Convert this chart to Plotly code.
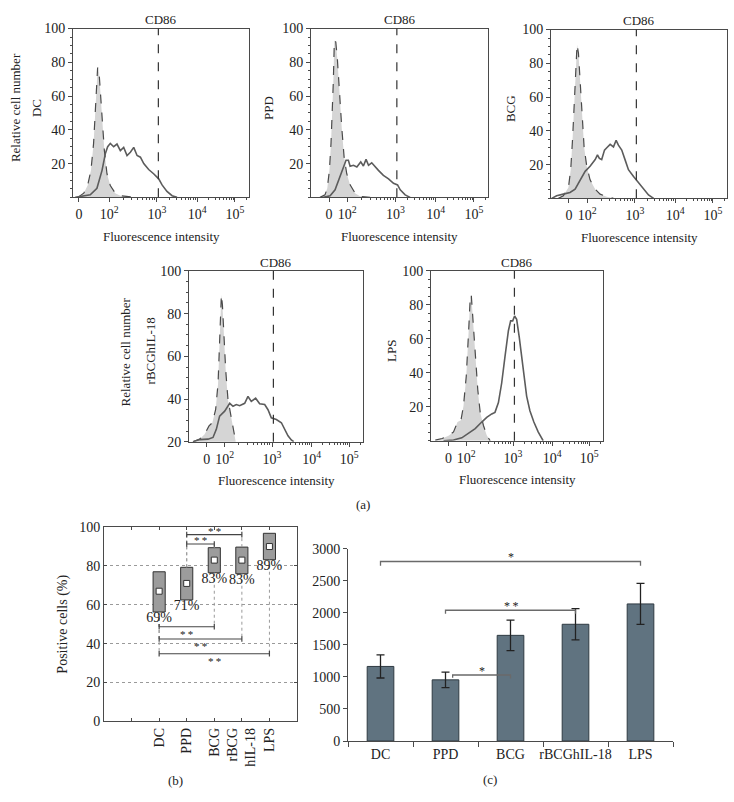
import math
import plotly.graph_objects as go

W, H = 734, 802
FONT = "Liberation Serif"
INK = "#222222"
AXIS = "#4a4a4a"

# ---------------- (a) CD86 histograms ----------------
# x values are display channels (0-1000) of the biexponential fluorescence axis
decade_ch = [205, 477, 705, 920]
decade_txt = ["10<sup>2</sup>", "10<sup>3</sup>", "10<sup>4</sup>", "10<sup>5</sup>"]
gate_ch = 485

dc_ctrl_x = [27, 61, 83, 102, 117, 127, 134, 140, 148, 155, 165, 178, 193, 212, 240, 269, 316, 345]
dc_ctrl_y = [0, 2.5, 7, 16, 32, 49, 68, 77, 74, 63, 47, 28, 14, 7, 2.5, 1, 0.5, 0]
dc_x = [13, 61, 98, 136, 165, 184, 197, 212, 231, 250, 269, 288, 307, 326, 345, 364, 383, 402,
        430, 458, 487, 506, 534, 563, 591]
dc_y = [0, 0.6, 1.5, 5.4, 16, 26, 30, 32, 30, 31.6, 27.7, 29.6, 24.8, 26.7, 29.6, 24.8, 23.8, 20,
        16.5, 14, 11, 7.4, 3.5, 1, 0]

ppd_ctrl_x = [51, 79, 92, 104, 113, 121, 126, 132, 140, 149, 160, 174, 187, 202, 221, 249, 277, 334]
ppd_ctrl_y = [0, 1.5, 5.4, 16, 32, 49, 68, 93, 92, 82, 63, 41, 24, 14, 7.4, 2.5, 0.6, 0]
ppd_x = [70, 108, 136, 155, 174, 187, 198, 211, 221, 240, 259, 281, 296, 311, 325, 343, 362, 381,
         409, 438, 466, 489, 504, 532, 560]
ppd_y = [0, 1, 4.5, 10, 16, 19, 22, 22, 18.4, 19, 18, 21, 18.6, 22.5, 19, 20.5, 18, 16,
         13, 11, 8.3, 7.4, 4.5, 1.5, 0]

bcg_ctrl_x = [42, 70, 99, 112, 123, 133, 142, 148, 156, 165, 175, 188, 203, 222, 251, 279, 317, 355]
bcg_ctrl_y = [0, 1.5, 6.4, 17, 36, 59, 83, 91, 86, 69, 50, 30.5, 19, 11, 5.4, 2.5, 1, 0]
bcg_x = [4, 32, 70, 108, 137, 165, 194, 222, 251, 264, 275, 288, 304, 317, 336, 355, 370, 383,
         402, 421, 440, 469, 497, 526, 554, 583]
bcg_y = [0, 1.5, 2.5, 3.5, 5.4, 11, 16, 19, 23, 25.7, 23.7, 23, 28.6, 30, 32, 30.5, 34.4, 31.5,
         28.6, 22.8, 17, 13, 9.3, 5.4, 2, 0]

rbcg_ctrl_x = [23, 61, 90, 115, 134, 153, 167, 176, 182, 186, 192, 199, 211, 224, 243, 257, 268, 291]
rbcg_ctrl_y = [20, 21.2, 23.5, 27.4, 28.9, 35, 47.3, 65.8, 82.7, 88.8, 84.2, 70.4, 53.5, 39.7, 30.4,
               25, 20, 10]
rbcg_x = [23, 61, 109, 138, 157, 176, 205, 234, 253, 272, 291, 320, 339, 358, 383, 406, 435, 454,
          473, 502, 531, 550, 569, 588, 602]
rbcg_y = [20, 21, 21.2, 22, 25.8, 32, 34.3, 38, 36.6, 37.4, 36.9, 38, 41.2, 38.9, 40.4, 37.8, 37.4, 35,
          31.2, 30.4, 28.9, 25.8, 22.8, 20.8, 20]

lps_ctrl_x = [25, 64, 102, 131, 154, 174, 189, 205, 218, 228, 234, 243, 257, 272, 286, 305, 324, 344]
lps_ctrl_y = [0.4, 1.3, 2.9, 5.2, 11, 12, 20.6, 38, 63, 84, 86, 72.5, 49.4, 30, 16.7, 9, 3.3, 0]
lps_x = [73, 131, 179, 218, 257, 295, 324, 353, 372, 392, 411, 430, 450, 463, 475, 486, 498, 513,
         533, 556, 575, 598, 623, 643, 652]
lps_y = [0, 0.4, 1.7, 4.2, 7.1, 11, 13.8, 15.8, 16.7, 22.5, 34, 49.4, 64.8, 70.6, 70.6, 73.5, 71.5, 61,
         43.7, 26.3, 17.7, 11, 5.2, 1.3, 0]

# ---------------- (b) positive cells ----------------
b_groups = ["DC", "PPD", "BCG", "rBCG<br>hIL-18", "LPS"]
b_pos = [2, 3, 4, 5, 6]
b_low = [56.3, 62.5, 76.5, 76, 83.2]
b_high = [77, 79.3, 89.4, 89.7, 96.8]
b_mid = [67, 71, 83, 83, 90]
b_pct = ["69%", "71%", "83%", "83%", "89%"]
b_br_from = [3, 3, 2, 2, 2]
b_br_to = [5, 4, 4, 5, 6]
b_br_level = [96.1, 91.3, 48.7, 42.4, 34.8]

# ---------------- (c) CD86 MFI ----------------
c_groups = ["DC", "PPD", "BCG", "rBCGhIL-18", "LPS"]
c_mfi = [1163, 954, 1648, 1821, 2138]
c_err = [180, 122, 237, 245, 320]
c_br_left = [0, 1, 1.11]
c_br_right = [4, 3, 2]
c_br_level = [2800, 2040, 1030]
c_br_drop_l = [2735, 1985, 985]
c_br_drop_r = [2735, 1985, 975]
c_br_txt = ["*", "*\u2009*", "*"]


def pdx(x):
    return x / W


def pdy(y):
    return 1 - y / H


def txt_font(size=13):
    return dict(family=FONT, size=size, color=INK)


fig = go.Figure()
layout = dict(
    width=W, height=H, margin=dict(l=0, r=0, t=0, b=0, pad=0), autosize=False,
    paper_bgcolor="white", plot_bgcolor="white", showlegend=False,
    font=txt_font(13),
)
annotations = []
shapes = []

minor_ch = []
for i in range(3):
    for k in range(2, 10):
        minor_ch.append(decade_ch[i] + math.log10(k) * (decade_ch[i + 1] - decade_ch[i]))
for k in range(2, 4):
    minor_ch.append(decade_ch[3] + math.log10(k) * (decade_ch[3] - decade_ch[2]))

# n, name, box (px: left, right, top, bottom), zero tick, y min, name x, rcn x, data
panels = [
    (1, "DC", (73, 249, 22, 194), 34, 0, 36, 15, dc_ctrl_x, dc_ctrl_y, dc_x, dc_y),
    (2, "PPD", (311, 488, 22, 194), 102, 0, 268, None, ppd_ctrl_x, ppd_ctrl_y, ppd_x, ppd_y),
    (3, "BCG", (551, 727, 23, 195), 102, 0, 510, None, bcg_ctrl_x, bcg_ctrl_y, bcg_x, bcg_y),
    (4, "rBCGhIL-18", (189, 363, 269, 443), 102, 20, 150, 125, rbcg_ctrl_x, rbcg_ctrl_y, rbcg_x, rbcg_y),
    (5, "LPS", (431, 603, 269, 442), 102, 0, 392, None, lps_ctrl_x, lps_ctrl_y, lps_x, lps_y),
]

for n, name, box, zero_ch, ymin, name_x, rcn_x, cx, cy, sx, sy in panels:
    l, r, t, b = box
    sfx = "" if n == 1 else str(n)
    fig.add_trace(go.Scatter(x=cx, y=cy, xaxis="x" + sfx, yaxis="y" + sfx, mode="lines",
                             fill="tozeroy", fillcolor="#d5d5d5",
                             line=dict(color="#4a4a4a", width=1.2, dash="dash")))
    fig.add_trace(go.Scatter(x=sx, y=sy, xaxis="x" + sfx, yaxis="y" + sfx, mode="lines",
                             line=dict(color="#5c5c5c", width=1.6)))
    layout["xaxis" + sfx] = dict(
        domain=[pdx(l), pdx(r)], anchor="y" + sfx, range=[0, 1000],
        tickvals=[zero_ch] + decade_ch, ticktext=["0"] + decade_txt, tickfont=txt_font(14),
        ticks="outside", ticklen=4, tickcolor=AXIS, showline=True, mirror=True,
        linecolor=AXIS, linewidth=1, showgrid=False, zeroline=False,
        minor=dict(tickvals=minor_ch, ticks="outside", ticklen=2, tickcolor=AXIS),
    )
    layout["yaxis" + sfx] = dict(
        domain=[pdy(b), pdy(t)], anchor="x" + sfx, range=[ymin, 100], tickfont=txt_font(14),
        tickvals=[20, 40, 60, 80, 100], ticks="outside", ticklen=4, tickcolor=AXIS,
        showline=True, mirror=True, linecolor=AXIS, linewidth=1, showgrid=False, zeroline=False,
        minor=dict(dtick=5, ticks="outside", ticklen=2, tickcolor=AXIS),
    )
    shapes.append(dict(type="line", xref="x" + sfx, yref="y" + sfx + " domain",
                       x0=gate_ch, x1=gate_ch, y0=0, y1=1,
                       line=dict(color="#333333", width=1.2, dash="dash")))
    cx_mid = (l + r) / 2
    annotations.append(dict(text="CD86", xref="paper", yref="paper", x=pdx(cx_mid), y=pdy(t - 9),
                            showarrow=False, xanchor="center", yanchor="middle", font=txt_font(13)))
    annotations.append(dict(text="Fluorescence intensity", xref="paper", yref="paper",
                            x=pdx(cx_mid), y=pdy(b + 40), showarrow=False,
                            xanchor="center", yanchor="middle", font=txt_font(13)))
    ymid = (t + b) / 2
    annotations.append(dict(text=name, xref="paper", yref="paper", x=pdx(name_x), y=pdy(ymid - 5),
                            textangle=-90, showarrow=False, xanchor="center", yanchor="middle",
                            font=txt_font(13)))
    if rcn_x is not None:
        annotations.append(dict(text="Relative cell number", xref="paper", yref="paper",
                                x=pdx(rcn_x), y=pdy(ymid - 5), textangle=-90, showarrow=False,
                                xanchor="center", yanchor="middle", font=txt_font(13)))

annotations.append(dict(text="(a)", xref="paper", yref="paper", x=pdx(363), y=pdy(507),
                        showarrow=False, xanchor="center", yanchor="middle", font=txt_font(13)))

# ---------------- (b) ----------------
for f, t_, lev in zip(b_br_from, b_br_to, b_br_level):
    for p in (f, t_):
        gi = b_pos.index(p)
        edge = b_high[gi] if lev > b_high[gi] else b_low[gi]
        fig.add_trace(go.Scatter(x=[p, p], y=[edge, lev], xaxis="x6", yaxis="y6", mode="lines",
                                 line=dict(color="#9a9a9a", width=1, dash="dot")))

fig.add_trace(go.Bar(x=b_pos, y=[h - lo for h, lo in zip(b_high, b_low)], base=b_low,
                     xaxis="x6", yaxis="y6", width=0.44,
                     marker=dict(color="#9c9c9c", line=dict(color="#333333", width=1))))
fig.add_trace(go.Scatter(x=b_pos, y=b_mid, xaxis="x6", yaxis="y6", mode="markers",
                         marker=dict(symbol="square", size=6, color="white",
                                     line=dict(color="#333333", width=1))))
fig.add_trace(go.Scatter(x=b_pos, y=b_low, xaxis="x6", yaxis="y6", mode="text", text=b_pct,
                         textposition="bottom center", textfont=txt_font(14)))

for f, t_, lev in zip(b_br_from, b_br_to, b_br_level):
    fig.add_trace(go.Scatter(x=[f, t_], y=[lev, lev], xaxis="x6", yaxis="y6", mode="lines+markers",
                             line=dict(color="#444444", width=1.2),
                             marker=dict(symbol="line-ns-open", size=4,
                                         line=dict(color="#444444", width=1.2))))
    above = lev > b_high[b_pos.index(f)]
    annotations.append(dict(text="*\u2009*", xref="x6", yref="y6", x=(f + t_) / 2, y=lev,
                            yshift=4 if above else -7, showarrow=False,
                            xanchor="center", yanchor="middle", font=txt_font(11)))

layout["xaxis6"] = dict(
    domain=[pdx(104), pdx(297)], anchor="y6", range=[0, 7],
    tickvals=[1, 2, 3, 4, 5, 6], ticktext=[" "] + b_groups, tickangle=-90, tickfont=txt_font(14),
    ticks="inside", ticklen=3, tickcolor=AXIS, showline=True, mirror="ticks",
    linecolor=AXIS, linewidth=1, showgrid=False, zeroline=False,
)
layout["yaxis6"] = dict(
    domain=[pdy(728), pdy(530)], anchor="x6", range=[0, 100], tickfont=txt_font(14),
    tickvals=[0, 20, 40, 60, 80, 100], ticks="inside", ticklen=3, tickcolor=AXIS,
    showline=True, mirror="ticks", linecolor=AXIS, linewidth=1,
    showgrid=True, gridcolor="#9a9a9a", griddash="dot", gridwidth=1, zeroline=False,
    title=dict(text="Positive cells (%)", standoff=8, font=txt_font(14)),
)
annotations.append(dict(text="(b)", xref="paper", yref="paper", x=pdx(175), y=pdy(788),
                        showarrow=False, xanchor="center", yanchor="middle", font=txt_font(13)))

# ---------------- (c) ----------------
fig.add_trace(go.Bar(x=list(range(len(c_groups))), y=c_mfi, xaxis="x7", yaxis="y7", width=0.41,
                     marker=dict(color="#607380", line=dict(color="#2f3a42", width=1)),
                     error_y=dict(type="data", array=c_err, color="#222222", thickness=1.3, width=4)))

for l_, r_, lev, dl, dr, txt in zip(c_br_left, c_br_right, c_br_level, c_br_drop_l, c_br_drop_r, c_br_txt):
    fig.add_trace(go.Scatter(x=[l_, l_, r_, r_], y=[dl, lev, lev, dr], xaxis="x7", yaxis="y7",
                             mode="lines", line=dict(color="#6a6a6a", width=1.3)))
    annotations.append(dict(text=txt, xref="x7", yref="y7", x=(l_ + r_) / 2, y=lev, yshift=4,
                            showarrow=False, xanchor="center", yanchor="middle",
                            font=txt_font(12)))

layout["xaxis7"] = dict(
    domain=[pdx(348), pdx(673)], anchor="y7", range=[-0.5, 4.5], tickfont=txt_font(14),
    tickvals=list(range(len(c_groups))), ticktext=c_groups, ticks="",
    showline=True, linecolor=AXIS, linewidth=1, showgrid=False, zeroline=False,
    minor=dict(tickvals=[i - 0.5 for i in range(len(c_groups) + 1)], ticks="outside",
               ticklen=5, tickcolor=AXIS),
)
layout["yaxis7"] = dict(
    domain=[pdy(748), pdy(552)], anchor="x7", range=[0, 3000], dtick=500, tickfont=txt_font(14),
    ticks="outside", ticklen=4, tickcolor=AXIS, showline=True, linecolor=AXIS, linewidth=1,
    showgrid=False, zeroline=False,
)
annotations.append(dict(text="(c)", xref="paper", yref="paper", x=pdx(490), y=pdy(787),
                        showarrow=False, xanchor="center", yanchor="middle", font=txt_font(13)))

layout["annotations"] = annotations
layout["shapes"] = shapes
fig.update_layout(**layout)
fig.write_html("out.html", config={"displayModeBar": False, "staticPlot": True},
               post_script="document.body.style.margin='0';")
